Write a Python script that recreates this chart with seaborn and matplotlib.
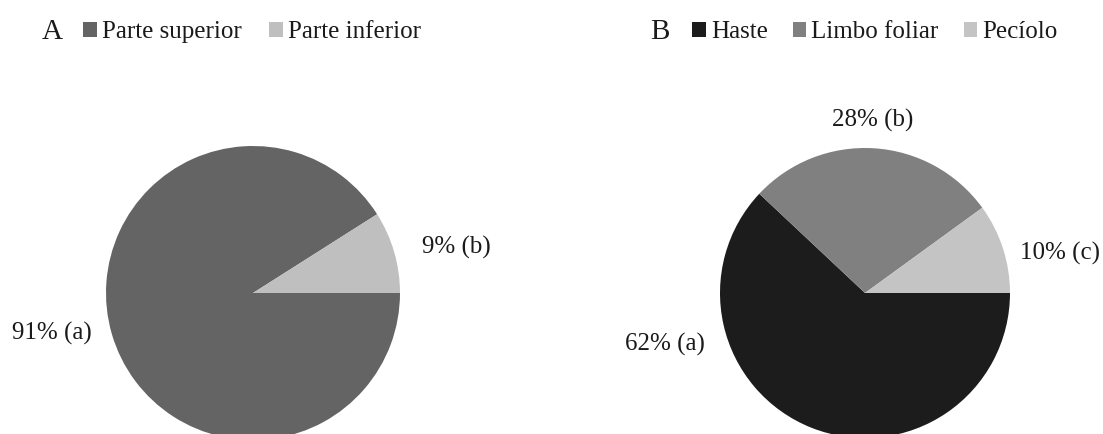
import matplotlib
matplotlib.use("Agg")
import matplotlib.pyplot as plt
import seaborn as sns

# chart A
parts_a = ["Parte superior", "Parte inferior"]
values_a = [91, 9]
letters_a = ["a", "b"]

# chart B
parts_b = ["Haste", "Limbo foliar", "Pecíolo"]
values_b = [62, 28, 10]
letters_b = ["a", "b", "c"]

colors_a = ["#646464", "#bfbfbf"]
colors_b = ["#1c1c1c", "#808080", "#c4c4c4"]

sns.set_theme(style="white")
plt.rcParams["font.family"] = ["Liberation Serif", "DejaVu Serif"]

W, H = 1103, 434
fig = plt.figure(figsize=(W / 100, H / 100), dpi=100)
ax = fig.add_axes([0, 0, 1, 1])


def draw_pie(ax, values, parts, letters, colors, center, radius, label_pos, title, title_x, legend_x, legend_spacing):
    wedges, _ = ax.pie(values, colors=colors, startangle=0, counterclock=False,
                       center=center, radius=radius, frame=True,
                       wedgeprops=dict(linewidth=0))
    for v, l, (x, y) in zip(values, letters, label_pos):
        ax.text(x, y, f"{v}% ({l})", ha="center", va="center", fontsize=18, color="#1a1a1a")
    ax.text(title_x, H - 32, title, ha="center", va="center", fontsize=21, color="#1a1a1a")
    leg = ax.legend(wedges, parts, loc="center left", bbox_to_anchor=(legend_x, H - 32),
                    bbox_transform=ax.transData, ncol=len(parts), frameon=False,
                    fontsize=18, handlelength=0.55, handleheight=0.55, handletextpad=0.2,
                    columnspacing=legend_spacing, borderpad=0, borderaxespad=0)
    for t in leg.get_texts():
        t.set_color("#1a1a1a")
    return leg


leg_a = draw_pie(ax, values_a, parts_a, letters_a, colors_a, (253, H - 293), 147,
                 [(52, H - 333), (456, H - 247)], "A", 52, 83, 1.1)
ax.add_artist(leg_a)
draw_pie(ax, values_b, parts_b, letters_b, colors_b, (865, H - 293), 145,
         [(665, H - 344), (873, H - 120), (1060, H - 253)], "B", 660, 692, 1.0)

ax.set_xlim(0, W)
ax.set_ylim(0, H)
ax.set_aspect("equal")
ax.axis("off")

fig.savefig("out.png", dpi=100, facecolor="white")
